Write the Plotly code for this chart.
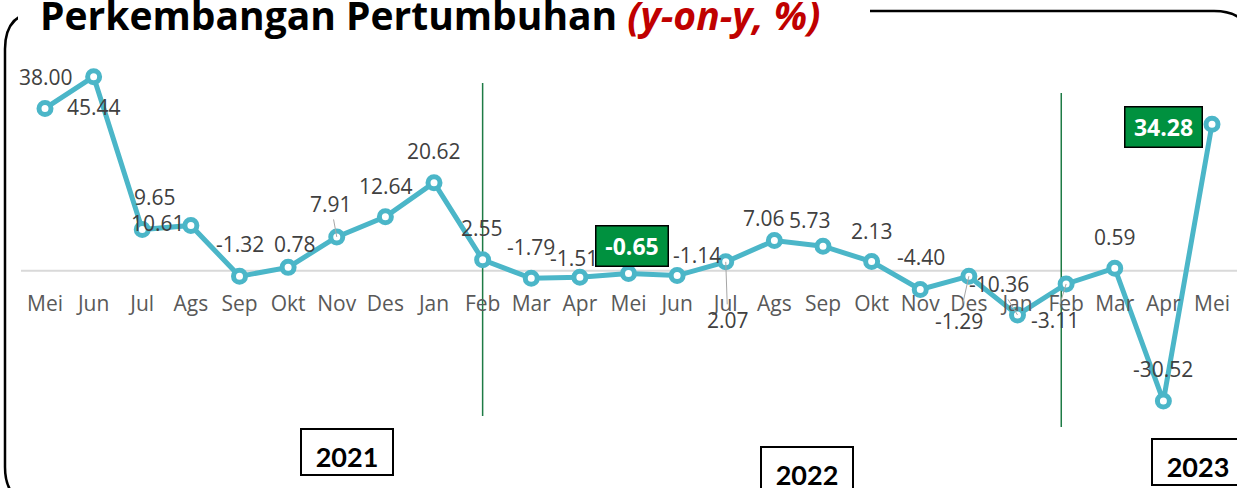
import plotly.graph_objects as go

# Monthly year-on-year growth, May 2021 - May 2023
months = ["Mei", "Jun", "Jul", "Ags", "Sep", "Okt", "Nov", "Des", "Jan", "Feb", "Mar", "Apr",
          "Mei", "Jun", "Jul", "Ags", "Sep", "Okt", "Nov", "Des", "Jan", "Feb", "Mar", "Apr", "Mei"]
growth = [38.00, 45.44, 9.65, 10.61, -1.32, 0.78, 7.91, 12.64, 20.62, 2.55, -1.79, -1.51,
          -0.65, -1.14, 2.07, 7.06, 5.73, 2.13, -4.40, -1.29, -10.36, -3.11, 0.59, -30.52, 34.28]
years = ["2021", "2022", "2023"]
highlighted = [12, 24]          # points whose value sits in a green badge
year_dividers = [9, 20.9]       # vertical separators between years

# label placement (pixel offset of the label centre from its point) and leader lines
label_offsets = [(1, -31), (0, 30), (13, -32), (-33, -2), (0, -32), (7, -23), (-6, -33),
                 (1, -31), (0, -32), (-1, -32), (0, -31), (-6, -19), (3, -27), (20, -21),
                 (2, 58), (-10, -23), (-13, -26), (0, -31), (1, -32), (-10, 45), (-19, -31),
                 (-11, 36), (0, -31), (0, -32), (-49, 3)]
leaders = {6, 14, 19, 20, 21}

W, H = 1237, 488
X0, DX = 45, 48.625      # pixel of first category, spacing
Y0, SY = 270.7, 4.27     # pixel of zero, pixels per unit

TEAL = "#4BB6C8"
GREEN = "#00913F"


def pxx(v):
    return v / W


def pxy(v):
    return 1 - v / H


x = list(range(len(growth)))

fig = go.Figure()
fig.add_trace(go.Scatter(
    x=x, y=growth, mode="lines+markers",
    line=dict(color=TEAL, width=5),
    marker=dict(symbol="circle", size=12, color="white", line=dict(color=TEAL, width=5)),
    hoverinfo="skip", showlegend=False,
))

shapes = []
# zero line
shapes.append(dict(type="line", xref="paper", yref="y", x0=pxx(21), x1=1, y0=0, y1=0,
                   line=dict(color="#D9D9D9", width=2), layer="below"))
# year dividers
for xv, (top, bot) in zip(year_dividers, [(83, 416), (93, 427)]):
    shapes.append(dict(type="line", xref="x", yref="paper", x0=xv, x1=xv,
                       y0=pxy(bot), y1=pxy(top),
                       line=dict(color="#1E7B45", width=1.5), layer="below"))

# rounded frame
L, T, R, B, r = 5, 11, 1252, 505, 38


def P(a, b):
    return f"{pxx(a):.5f},{pxy(b):.5f}"


frame = (f"M{P(L, T + r)} Q{P(L, T)} {P(L + r, T)} L{P(R - r, T)} Q{P(R, T)} {P(R, T + r)} "
         f"L{P(R, B - r)} Q{P(R, B)} {P(R - r, B)} L{P(L + r, B)} Q{P(L, B)} {P(L, B - r)} Z")
shapes.append(dict(type="path", xref="paper", yref="paper", path=frame,
                   line=dict(color="black", width=2.5), layer="above"))
# gap in the frame behind the title
shapes.append(dict(type="rect", xref="paper", yref="paper", x0=pxx(18), x1=pxx(870),
                   y0=pxy(32), y1=pxy(-2), fillcolor="white", line=dict(width=0), layer="above"))

annotations = []
for i, v in enumerate(growth):
    ox, oy = label_offsets[i]
    txt = f"{v:.2f}"
    if i in highlighted:
        annotations.append(dict(
            x=i, y=v, xref="x", yref="y", text=f"<b>{txt}</b>", showarrow=True,
            ax=ox, ay=oy, arrowcolor="rgba(0,0,0,0)", arrowwidth=0.1,
            width=71 if v < 0 else 76, height=39, align="center", valign="middle",
            font=dict(family="Open Sans", size=23, color="white"),
            bgcolor=GREEN, bordercolor="black", borderwidth=1.5, borderpad=0,
        ))
    else:
        annotations.append(dict(
            x=i, y=v, xref="x", yref="y", text=txt, showarrow=True,
            ax=ox, ay=oy, arrowhead=0, standoff=0,
            arrowcolor="#A6A6A6" if i in leaders else "rgba(0,0,0,0)",
            arrowwidth=1,
            font=dict(family="Open Sans", size=21, color="#404040"),
        ))

# title
annotations.append(dict(
    x=pxx(38), y=pxy(15), xref="paper", yref="paper", xanchor="left", yanchor="middle",
    showarrow=False,
    text="<b>Perkembangan Pertumbuhan </b><b><i><span style='color:#C00000'>(y-on-y, %)</span></i></b>",
    font=dict(family="Open Sans", size=39, color="black"),
))

# year badges
for label, (cx, cy) in zip(years, [(347, 452), (807, 470), (1198, 462)]):
    annotations.append(dict(
        x=pxx(cx), y=pxy(cy), xref="paper", yref="paper", xanchor="center", yanchor="middle",
        showarrow=False, text=f"<b>{label}</b>", width=88, height=42, valign="bottom",
        font=dict(family="Lato", size=27, color="black"),
        bgcolor="white", bordercolor="black", borderwidth=2, borderpad=1,
    ))

fig.update_layout(
    width=W, height=H, margin=dict(l=0, r=0, t=0, b=0, autoexpand=False),
    paper_bgcolor="white", plot_bgcolor="white",
    xaxis=dict(domain=[0, 1], range=[-X0 / DX, (W - X0) / DX], tickvals=x, ticktext=months,
               anchor="free", position=pxy(289), showline=False, showgrid=False,
               zeroline=False, ticks="", fixedrange=True,
               tickfont=dict(family="Open Sans", size=21, color="#595959")),
    yaxis=dict(domain=[0, 1], range=[(Y0 - H) / SY, Y0 / SY], visible=False,
               showgrid=False, zeroline=False, fixedrange=True),
    shapes=shapes, annotations=annotations,
)

fig.write_html("out.html")
